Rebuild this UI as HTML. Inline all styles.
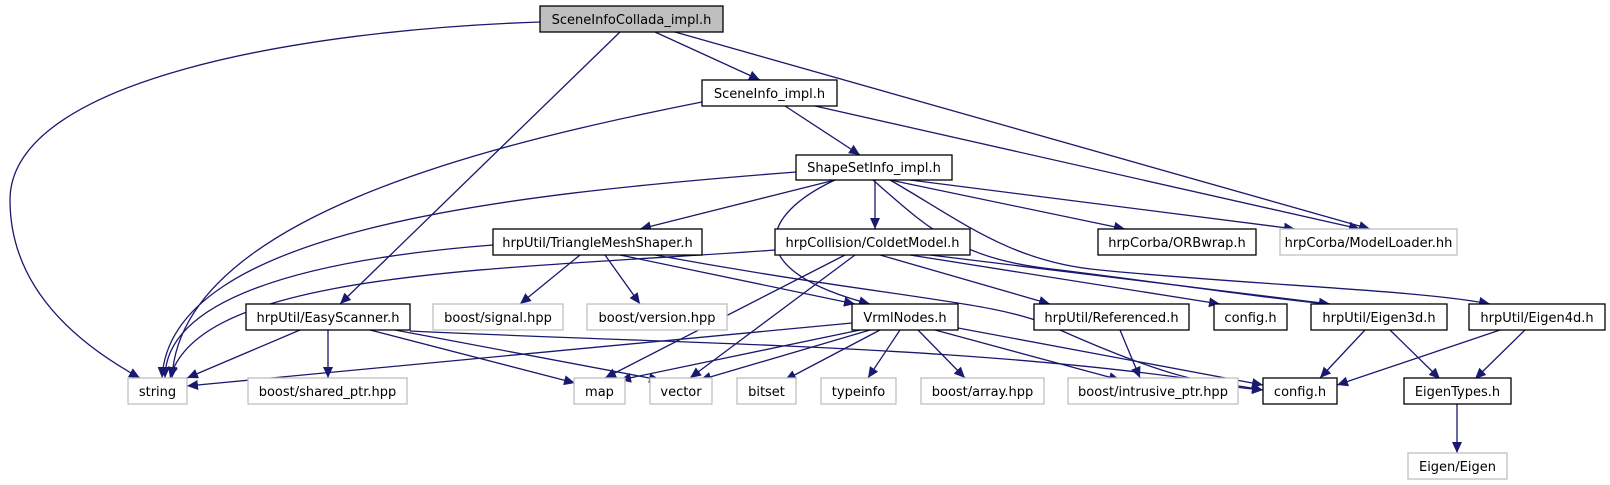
<!DOCTYPE html>
<html><head><meta charset="utf-8"><style>
html,body{margin:0;padding:0;background:#fff;}
svg{display:block;}
text{font-family:"DejaVu Sans","Liberation Sans",sans-serif;font-size:13px;fill:#000;}
.e{fill:none;stroke:#191970;stroke-width:1.3;}
</style></head><body>
<svg width="1610" height="485" viewBox="0 0 1610 485" xmlns="http://www.w3.org/2000/svg">
<defs>
<marker id="a" markerUnits="userSpaceOnUse" markerWidth="12" markerHeight="10" refX="11" refY="5" orient="auto">
<path d="M0,0 L11,5 L0,10 z" fill="#191970"/>
</marker>
</defs>
<g marker-end="url(#a)">
<!-- A SceneInfoCollada -->
<path class="e" d="M540,22 C300,30 10,80 10,200 C10,290 80,345 140,378"/>
<path class="e" d="M620,32 L340,304"/>
<path class="e" d="M655,32 L760,80"/>
<path class="e" d="M675,32 L1370,229"/>
<!-- B SceneInfo -->
<path class="e" d="M702,102 C480,146 180,220 172,378"/>
<path class="e" d="M785,106 L860,155"/>
<path class="e" d="M815,106 L1360,229"/>
<!-- C ShapeSetInfo -->
<path class="e" d="M796,172 C500,195 170,230 162,378"/>
<path class="e" d="M835,180 L640,229"/>
<path class="e" d="M875,180 L875,229"/>
<path class="e" d="M835,180 C760,215 740,270 870,304"/>
<path class="e" d="M890,180 L1125,229"/>
<path class="e" d="M910,180 L1295,229"/>
<path class="e" d="M873,180 C930,230 960,260 1060,270 C1180,285 1280,300 1330,304"/>
<path class="e" d="M890,180 C960,220 1010,262 1100,270 C1250,285 1420,290 1490,304"/>
<!-- D TriangleMeshShaper -->
<path class="e" d="M493,245 C300,260 165,300 165,378"/>
<path class="e" d="M580,255 L520,304"/>
<path class="e" d="M605,255 L640,304"/>
<path class="e" d="M620,255 L855,304"/>
<path class="e" d="M655,255 C900,300 1000,300 1060,330 C1150,370 1200,385 1263,390"/>
<!-- E ColdetModel -->
<path class="e" d="M775,250 C500,270 200,270 170,378"/>
<path class="e" d="M845,255 L605,378"/>
<path class="e" d="M855,255 L690,378"/>
<path class="e" d="M880,255 L1050,304"/>
<path class="e" d="M910,255 L1220,304"/>
<path class="e" d="M930,255 L1330,304"/>
<!-- H EasyScanner -->
<path class="e" d="M300,330 L187,378"/>
<path class="e" d="M328,330 L328,378"/>
<path class="e" d="M370,330 L575,383"/>
<path class="e" d="M395,330 L660,380"/>
<path class="e" d="M410,331 C700,345 1000,345 1263,390"/>
<!-- K VrmlNodes -->
<path class="e" d="M852,323 L187,386"/>
<path class="e" d="M860,330 L620,380"/>
<path class="e" d="M870,330 L700,380"/>
<path class="e" d="M880,330 L785,380"/>
<path class="e" d="M900,330 L868,378"/>
<path class="e" d="M918,330 L965,378"/>
<path class="e" d="M935,330 L1120,380"/>
<path class="e" d="M958,328 L1263,385"/>
<!-- L Referenced -->
<path class="e" d="M1120,330 L1140,378"/>
<!-- N Eigen3d -->
<path class="e" d="M1365,330 L1320,378"/>
<path class="e" d="M1390,330 L1440,379"/>
<!-- O Eigen4d -->
<path class="e" d="M1500,330 L1337,385"/>
<path class="e" d="M1525,330 L1475,379"/>
<!-- Y EigenTypes -->
<path class="e" d="M1457,404 L1457,453"/>
</g>
<g stroke-width="1.3">
<rect x="540" y="6" width="183" height="26" fill="#bfbfbf" stroke="#000"/>
<rect x="702" y="80" width="135" height="26" fill="#fff" stroke="#000"/>
<rect x="796" y="155" width="156" height="25" fill="#fff" stroke="#000"/>
<rect x="493" y="229" width="209" height="26" fill="#fff" stroke="#000"/>
<rect x="775" y="229" width="195" height="26" fill="#fff" stroke="#000"/>
<rect x="1098" y="229" width="158" height="26" fill="#fff" stroke="#000"/>
<rect x="1280" y="229" width="177" height="26" fill="#fff" stroke="#bfbfbf"/>
<rect x="246" y="304" width="164" height="26" fill="#fff" stroke="#000"/>
<rect x="433" y="304" width="130" height="26" fill="#fff" stroke="#bfbfbf"/>
<rect x="587" y="304" width="140" height="26" fill="#fff" stroke="#bfbfbf"/>
<rect x="852" y="304" width="106" height="26" fill="#fff" stroke="#000"/>
<rect x="1034" y="304" width="155" height="26" fill="#fff" stroke="#000"/>
<rect x="1214" y="304" width="73" height="26" fill="#fff" stroke="#000"/>
<rect x="1311" y="304" width="136" height="26" fill="#fff" stroke="#000"/>
<rect x="1469" y="304" width="136" height="26" fill="#fff" stroke="#000"/>
<rect x="128" y="378" width="59" height="26" fill="#fff" stroke="#bfbfbf"/>
<rect x="248" y="378" width="159" height="26" fill="#fff" stroke="#bfbfbf"/>
<rect x="574" y="378" width="51" height="26" fill="#fff" stroke="#bfbfbf"/>
<rect x="650" y="378" width="62" height="26" fill="#fff" stroke="#bfbfbf"/>
<rect x="737" y="378" width="59" height="26" fill="#fff" stroke="#bfbfbf"/>
<rect x="821" y="378" width="75" height="26" fill="#fff" stroke="#bfbfbf"/>
<rect x="921" y="378" width="123" height="26" fill="#fff" stroke="#bfbfbf"/>
<rect x="1068" y="378" width="170" height="26" fill="#fff" stroke="#bfbfbf"/>
<rect x="1263" y="378" width="74" height="26" fill="#fff" stroke="#000"/>
<rect x="1404" y="378" width="107" height="26" fill="#fff" stroke="#000"/>
<rect x="1408" y="453" width="99" height="26" fill="#fff" stroke="#bfbfbf"/>
</g>
<g text-anchor="middle">
<text x="631.5" y="24">SceneInfoCollada_impl.h</text>
<text x="769.5" y="98">SceneInfo_impl.h</text>
<text x="874" y="172">ShapeSetInfo_impl.h</text>
<text x="597.5" y="247">hrpUtil/TriangleMeshShaper.h</text>
<text x="872.5" y="247">hrpCollision/ColdetModel.h</text>
<text x="1177" y="247">hrpCorba/ORBwrap.h</text>
<text x="1368.5" y="247">hrpCorba/ModelLoader.hh</text>
<text x="328" y="322">hrpUtil/EasyScanner.h</text>
<text x="498" y="322">boost/signal.hpp</text>
<text x="657" y="322">boost/version.hpp</text>
<text x="905" y="322">VrmlNodes.h</text>
<text x="1111.5" y="322">hrpUtil/Referenced.h</text>
<text x="1250.5" y="322">config.h</text>
<text x="1379" y="322">hrpUtil/Eigen3d.h</text>
<text x="1537" y="322">hrpUtil/Eigen4d.h</text>
<text x="157.5" y="396">string</text>
<text x="327.5" y="396">boost/shared_ptr.hpp</text>
<text x="599.5" y="396">map</text>
<text x="681" y="396">vector</text>
<text x="766.5" y="396">bitset</text>
<text x="858.5" y="396">typeinfo</text>
<text x="982.5" y="396">boost/array.hpp</text>
<text x="1153" y="396">boost/intrusive_ptr.hpp</text>
<text x="1300" y="396">config.h</text>
<text x="1457.5" y="396">EigenTypes.h</text>
<text x="1457.5" y="471">Eigen/Eigen</text>
</g>
</svg>
</body></html>
